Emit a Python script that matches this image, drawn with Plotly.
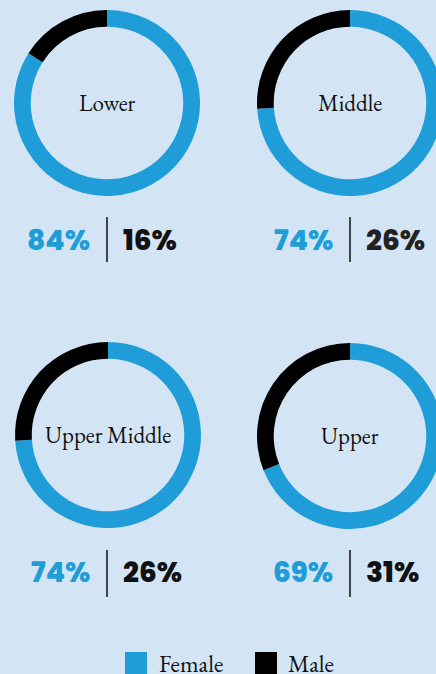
import plotly.graph_objects as go

# ---- data ----
groups = ["Lower", "Middle", "Upper Middle", "Upper"]
female = [84, 74, 74, 69]
male = [16, 26, 26, 31]
series_names = ["Female", "Male"]

# ---- style ----
W, H = 444, 674          # slightly wider than the window so the right donuts are clipped like the reference
BG = "#d3e5f5"
BLUE = "#1e9dd8"
BLACK = "#000000"
SERIF = "EB Garamond, Liberation Serif, serif"
SANS = "Poppins, Inter, sans-serif"

def px_x(x):
    return x / W

def px_y(y):
    return 1 - y / H

# donut boxes in pixels: (left, right, top, bottom)
boxes = [
    (14, 200, 10, 196),
    (257, 443, 10, 196),
    (15, 201, 342, 528),
    (257, 443, 343, 529),
]
# divider x, top, bottom, and row text y (pixels)
dividers = [(107, 217, 262, 240), (350, 217, 262, 240),
            (107, 550, 597, 572), (350, 550, 597, 572)]
male_text_colors = ["#111111", "#222222", "#111111", "#111111"]

fig = go.Figure()
annotations = []
shapes = []
for i, g in enumerate(groups):
    l, r, t, b = boxes[i]
    fig.add_trace(go.Pie(
        labels=series_names,
        values=[female[i], male[i]],
        marker=dict(colors=[BLUE, BLACK], line=dict(width=0)),
        hole=0.82,
        sort=False,
        direction="clockwise",
        rotation=0,
        textinfo="none",
        hoverinfo="label+percent",
        showlegend=False,
        domain=dict(x=[px_x(l), px_x(r)], y=[px_y(b), px_y(t)]),
        name=g,
    ))
    cx = (l + r) / 2
    cy = (t + b) / 2
    annotations.append(dict(
        text=g, x=px_x(cx), y=px_y(cy), xref="paper", yref="paper",
        showarrow=False, xanchor="center", yanchor="middle",
        font=dict(family=SERIF, size=23, color="#111111"),
    ))
    dx, dt, db, ty = dividers[i]
    shapes.append(dict(type="line", xref="paper", yref="paper",
                       x0=px_x(dx), x1=px_x(dx), y0=px_y(dt), y1=px_y(db),
                       line=dict(color="#111111", width=1.5)))
    annotations.append(dict(
        text=f"{female[i]}%", x=px_x(dx - 15), y=px_y(ty), xref="paper", yref="paper",
        showarrow=False, xanchor="right", yanchor="middle",
        font=dict(family=SANS, size=28, color=BLUE, weight=800),
    ))
    annotations.append(dict(
        text=f"{male[i]}%", x=px_x(dx + 14), y=px_y(ty), xref="paper", yref="paper",
        showarrow=False, xanchor="left", yanchor="middle",
        font=dict(family=SANS, size=28, color=male_text_colors[i], weight=800),
    ))

# legend
leg = [(125, 147, 157, BLUE), (255, 277, 286, BLACK)]
for (x0, x1, tx, col), name in zip(leg, series_names):
    shapes.append(dict(type="rect", xref="paper", yref="paper",
                       x0=px_x(x0), x1=px_x(x1), y0=px_y(674), y1=px_y(652),
                       fillcolor=col, line=dict(width=0)))
    annotations.append(dict(
        text=name, x=px_x(tx), y=px_y(663), xref="paper", yref="paper",
        showarrow=False, xanchor="left", yanchor="middle",
        font=dict(family=SERIF, size=24, color="#111111"),
    ))

fig.update_layout(
    width=W, height=H,
    margin=dict(l=0, r=0, t=0, b=0),
    paper_bgcolor=BG, plot_bgcolor=BG,
    annotations=annotations, shapes=shapes,
    showlegend=False,
)

fig.write_html(
    "out.html",
    config={"displayModeBar": False},
    post_script="document.body.style.margin='0';"
                "document.body.style.overflow='hidden';"
                "document.body.style.background='#d3e5f5';",
)
